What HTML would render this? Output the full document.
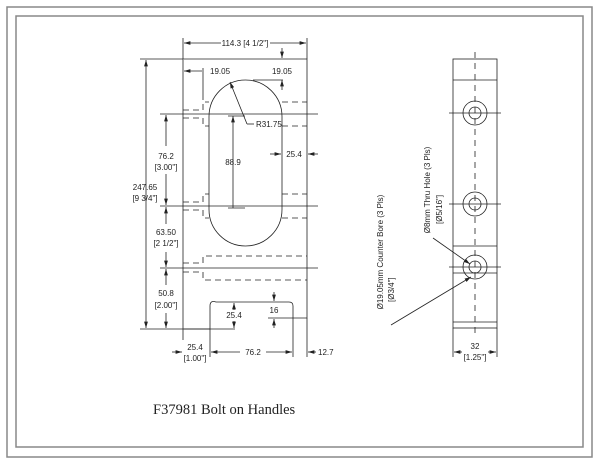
<!DOCTYPE html>
<html><head><style>
html,body{margin:0;padding:0;background:#fff}
svg{display:block}
text{font-family:"Liberation Sans",sans-serif;font-size:8px;fill:#222}
</style></head><body>
<svg width="600" height="464" viewBox="0 0 600 464" xmlns="http://www.w3.org/2000/svg">
<defs><marker id="a" viewBox="0 0 10 6" refX="10" refY="3" markerWidth="8" markerHeight="5" orient="auto-start-reverse"><path d="M0,0L10,3L0,6z" fill="#222"/></marker></defs>
<rect x="7" y="7" width="585" height="450" fill="none" stroke="#888" stroke-width="1.5"/>
<rect x="16" y="16" width="567" height="431" fill="none" stroke="#888" stroke-width="1.5"/>
<g stroke="#222" stroke-width="0.8" fill="none">
<!-- plate outline -->
<path d="M183,59 L307,59 L307,318 L293,318 L293,306 Q293,302 289,302 L216,302 Q210,300 210,306 L210,329 L183,329 Z"/>
<line x1="183" y1="59" x2="183" y2="340" stroke="#888" stroke-width="1.5"/>
<!-- slot -->
<path d="M209,116.5 A36.5,36.5 0 0 1 282,116.5 L282,209.5 A36.5,36.5 0 0 1 209,209.5 Z"/>
<!-- centerlines -->
<line x1="160" y1="114" x2="318" y2="114"/>
<line x1="160" y1="206" x2="318" y2="206"/>
<line x1="160" y1="268" x2="318" y2="268"/>
<!-- dashed hidden -->
<g stroke-dasharray="6,4">
<path d="M183,110 L203,110 L203,102 L209,102"/>
<path d="M183,118 L203,118 L203,126 L209,126"/>
<path d="M282,102 L307,102"/><path d="M282,126 L307,126"/>
<path d="M183,202 L203,202 L203,194 L209,194"/>
<path d="M183,210 L203,210 L203,218 L209,218"/>
<path d="M282,194 L307,194"/><path d="M282,218 L307,218"/>
<path d="M183,263 L203,263 L203,256 L307,256"/>
<path d="M183,272 L203,272 L203,280 L307,280"/>
</g>
<!-- top dims -->
<line x1="183" y1="38" x2="183" y2="59"/><line x1="307" y1="38" x2="307" y2="59"/>
<line x1="184" y1="43" x2="221" y2="43" marker-start="url(#a)"/>
<line x1="270" y1="43" x2="306" y2="43" marker-end="url(#a)"/>
<line x1="282" y1="48" x2="282" y2="58" marker-end="url(#a)"/>
<line x1="184" y1="71" x2="202" y2="71" marker-start="url(#a)"/>
<line x1="203" y1="68" x2="203" y2="100"/>
<line x1="282" y1="80" x2="282" y2="90" marker-start="url(#a)"/>
<line x1="253" y1="80" x2="283" y2="80"/>
<!-- R leader -->
<line x1="230" y1="82" x2="247" y2="124" marker-start="url(#a)"/><line x1="247" y1="124" x2="254" y2="124"/>
<!-- 88.9 -->
<line x1="233" y1="116" x2="233" y2="208" marker-start="url(#a)"/>
<line x1="228" y1="116" x2="245" y2="116"/><line x1="228" y1="208" x2="245" y2="208"/>
<!-- 25.4 right -->
<line x1="270" y1="154" x2="281" y2="154" marker-end="url(#a)"/>
<line x1="308" y1="154" x2="318" y2="154" marker-start="url(#a)"/>
<!-- left vertical dims -->
<line x1="146" y1="60" x2="146" y2="328" marker-start="url(#a)" marker-end="url(#a)"/>
<line x1="140" y1="59" x2="183" y2="59"/><line x1="140" y1="329" x2="235" y2="329"/>
<line x1="166" y1="115" x2="166" y2="146" marker-start="url(#a)"/><line x1="166" y1="174" x2="166" y2="205" marker-end="url(#a)"/>
<line x1="166" y1="207" x2="166" y2="224" marker-start="url(#a)"/><line x1="166" y1="252" x2="166" y2="267" marker-end="url(#a)"/>
<line x1="166" y1="269" x2="166" y2="285" marker-start="url(#a)"/><line x1="166" y1="313" x2="166" y2="328" marker-end="url(#a)"/>
<!-- 25.4 inner notch -->
<line x1="234" y1="303" x2="234" y2="310" marker-start="url(#a)"/><line x1="234" y1="321" x2="234" y2="328" marker-end="url(#a)"/>
<!-- 16 -->
<line x1="274" y1="292" x2="274" y2="301" marker-end="url(#a)"/>
<line x1="274" y1="319" x2="274" y2="328" marker-start="url(#a)"/>
<line x1="268" y1="318" x2="293" y2="318"/>
<!-- bottom dims -->
<line x1="210" y1="329" x2="210" y2="357"/><line x1="293" y1="318" x2="293" y2="357"/><line x1="307" y1="318" x2="307" y2="357"/>
<line x1="172" y1="352" x2="182" y2="352" marker-end="url(#a)"/>
<line x1="211" y1="352" x2="240" y2="352" marker-start="url(#a)"/><line x1="266" y1="352" x2="292" y2="352" marker-end="url(#a)"/>
<line x1="308" y1="352" x2="316" y2="352" marker-start="url(#a)"/>
<!-- side view -->
<rect x="453" y="59" width="44" height="269"/>
<line x1="453" y1="80" x2="497" y2="80"/><line x1="453" y1="246" x2="497" y2="246"/>
<line x1="453" y1="273" x2="497" y2="273"/><line x1="453" y1="322" x2="497" y2="322"/>
<line x1="475" y1="52" x2="475" y2="336" stroke-dasharray="6,5"/>
<circle cx="475" cy="113" r="12"/><circle cx="475" cy="113" r="6"/>
<circle cx="475" cy="204" r="12"/><circle cx="475" cy="204" r="6"/>
<circle cx="475" cy="267" r="12"/><circle cx="475" cy="267" r="6"/>
<line x1="449" y1="113" x2="501" y2="113"/><line x1="449" y1="204" x2="501" y2="204"/><line x1="449" y1="267" x2="501" y2="267"/>
<line x1="433" y1="238" x2="470" y2="264" marker-end="url(#a)"/>
<line x1="391" y1="325" x2="471" y2="277" marker-end="url(#a)"/>
<line x1="453" y1="328" x2="453" y2="357"/><line x1="497" y1="328" x2="497" y2="357"/>
<line x1="454" y1="352" x2="462" y2="352" marker-start="url(#a)"/><line x1="488" y1="352" x2="496" y2="352" marker-end="url(#a)"/>
</g>
<text x="245" y="46" text-anchor="middle">114.3 [4 1/2"]</text>
<text x="210" y="74">19.05</text>
<text x="282" y="74" text-anchor="middle">19.05</text>
<text x="256" y="127">R31.75</text>
<text x="233" y="165" text-anchor="middle">88.9</text>
<text x="294" y="157" text-anchor="middle">25.4</text>
<text x="145" y="190" text-anchor="middle">247.65</text>
<text x="145" y="201" text-anchor="middle">[9 3/4"]</text>
<text x="166" y="159" text-anchor="middle">76.2</text>
<text x="166" y="170" text-anchor="middle">[3.00"]</text>
<text x="166" y="235" text-anchor="middle">63.50</text>
<text x="166" y="246" text-anchor="middle">[2 1/2"]</text>
<text x="166" y="296" text-anchor="middle">50.8</text>
<text x="166" y="308" text-anchor="middle">[2.00"]</text>
<text x="234" y="318" text-anchor="middle">25.4</text>
<text x="274" y="313" text-anchor="middle">16</text>
<text x="195" y="350" text-anchor="middle">25.4</text>
<text x="195" y="361" text-anchor="middle">[1.00"]</text>
<text x="253" y="355" text-anchor="middle">76.2</text>
<text x="318" y="355">12.7</text>
<text x="475" y="349" text-anchor="middle">32</text>
<text x="475" y="360" text-anchor="middle">[1.25"]</text>
<text transform="translate(383,252) rotate(-90)" text-anchor="middle">Ø19.05mm Counter Bore (3 Pls)</text>
<text transform="translate(394,302) rotate(-90)">[Ø3/4"]</text>
<text transform="translate(430,190) rotate(-90)" text-anchor="middle">Ø8mm Thru Hole (3 Pls)</text>
<text transform="translate(442,224) rotate(-90)">[Ø5/16"]</text>
<text x="153" y="414" style="font-family:'Liberation Serif',serif;font-size:14.5px">F37981 Bolt on Handles</text>
</svg>
</body></html>
